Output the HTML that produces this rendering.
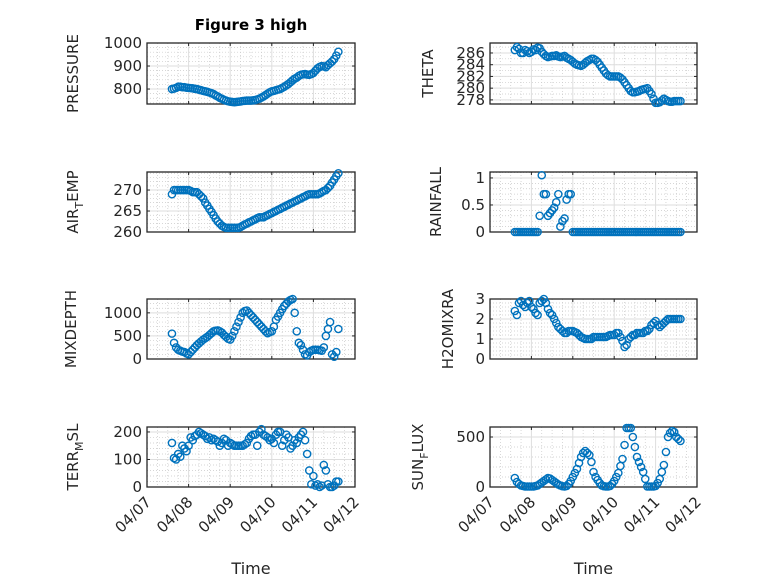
<!DOCTYPE html>
<html><head><meta charset="utf-8"><style>
body{margin:0;background:#fff;}
svg{display:block;font-family:"DejaVu Sans","Liberation Sans",sans-serif;}
</style></head><body>
<svg id="fig" width="778" height="583" viewBox="0 0 778 583">
<rect width="778" height="583" fill="#fff"/>
<text x="251" y="30" font-size="15" font-weight="bold" text-anchor="middle" fill="#000">Figure 3 high</text>
</svg>
<script>
const times=[0.6,0.65,0.7,0.75,0.8,0.85,0.9,0.95,1.0,1.05,
1.1,1.15,1.2,1.25,1.3,1.35,1.4,1.45,1.5,1.55,
1.6,1.65,1.7,1.75,1.8,1.85,1.9,1.95,2.0,2.05,
2.1,2.15,2.2,2.25,2.3,2.35,2.4,2.45,2.5,2.55,
2.6,2.65,2.7,2.75,2.8,2.85,2.9,2.95,3.0,3.05,
3.1,3.15,3.2,3.25,3.3,3.35,3.4,3.45,3.5,3.55,
3.6,3.65,3.7,3.75,3.8,3.85,3.9,3.95,4.0,4.05,
4.1,4.15,4.2,4.25,4.3,4.35,4.4,4.45,4.5,4.55,
4.6];
const xTickLabels=["04/07","04/08","04/09","04/10","04/11","04/12"];
const pressure=[800,802,805,810,810,808,808,806,805,804,
803,801,800,797,795,792,790,788,785,782,
778,772,768,762,758,753,750,747,745,744,
743,744,745,746,748,749,750,750,750,751,
752,755,758,763,768,774,780,786,790,792,
795,798,800,805,810,816,822,830,838,845,
850,857,862,864,865,863,862,865,870,880,
890,896,900,898,895,904,912,920,930,945,
962];
const airTemp=[269,270,270,270,270,270,270,270,270,269.8,
269.5,269.5,269.5,269,268.5,268,267,266.3,265.5,264.8,
264,263.2,262.5,262,261.5,261.2,261,261,261,261,
261,261,261,261.2,261.5,261.8,262,262.3,262.5,262.8,
263,263.3,263.5,263.5,263.5,263.8,264,264.3,264.5,264.8,
265,265.3,265.5,265.8,266,266.3,266.5,266.8,267,267.3,
267.5,267.8,268,268.3,268.5,268.8,269,269,269,269,
269,269.2,269.5,269.8,270,270.5,271,271.8,272.5,273.3,
274];
const theta=[286.5,287,286.7,286,286,286.5,286.3,286,286.2,286.6,
286.5,286.9,286.8,286.2,285.8,285.5,285.3,285.4,285.5,285.5,
285.6,285.4,285.3,285.4,285.5,285.2,285,284.8,284.5,284.2,
284,283.9,283.8,284,284.3,284.6,284.8,285,285,284.8,
284.5,284,283.5,283,282.5,282.2,282,282,282,282,
282,281.8,281.5,281,280.5,280,279.5,279.3,279.3,279.4,
279.5,279.7,279.8,279.9,280,279.5,279,278.2,277.5,277.5,
277.6,277.9,278.2,278,277.8,277.7,277.7,277.8,277.8,277.8,
277.8];
const rainfall=[0,0,0,0,0,0,0,0,0,0,
0,0,0.3,1.05,0.7,0.7,0.3,0.35,0.4,0.45,
0.55,0.7,0.1,0.2,0.25,0.6,0.7,0.7,0,0,
0,0,0,0,0,0,0,0,0,0,
0,0,0,0,0,0,0,0,0,0,
0,0,0,0,0,0,0,0,0,0,
0,0,0,0,0,0,0,0,0,0,
0,0,0,0,0,0,0,0,0,0,
0];
const mixDepth=[550,350,250,200,180,160,150,120,100,150,
200,250,300,340,380,420,450,480,520,560,
600,615,620,600,570,520,480,440,420,500,
600,700,800,900,1000,1040,1050,1000,950,900,
850,800,750,700,650,600,560,580,600,700,
850,920,1000,1080,1150,1200,1250,1280,1300,1000,
600,350,300,200,100,80,150,180,200,200,
200,190,180,250,500,650,800,100,50,150,
650];
const terrMsl=[160,105,100,120,110,150,140,130,150,180,
170,185,190,200,195,190,185,175,180,170,
175,170,165,150,160,175,170,150,160,155,
150,150,150,150,150,155,160,175,185,190,
190,150,200,210,190,185,180,170,175,160,
190,200,200,150,170,190,180,140,150,170,
160,180,190,200,170,120,60,10,40,5,
10,0,5,80,60,10,0,0,5,20,
20];
const h2oMix=[2.4,2.2,2.8,2.9,2.7,2.6,2.8,2.9,2.6,2.5,
2.3,2.2,2.8,2.9,3.0,2.8,2.5,2.3,2.2,2.0,
1.8,1.6,1.5,1.4,1.3,1.3,1.4,1.4,1.4,1.35,
1.3,1.2,1.1,1.05,1.0,1.0,1.0,1.0,1.1,1.1,
1.1,1.1,1.1,1.1,1.1,1.15,1.2,1.2,1.2,1.3,
1.3,1.1,0.9,0.6,0.7,1.0,1.1,1.2,1.2,1.3,
1.3,1.3,1.3,1.4,1.4,1.5,1.7,1.8,1.9,1.7,
1.6,1.7,1.8,1.9,2.0,2.0,2.0,2.0,2.0,2.0,
2.0];
const sunFlux=[90,50,30,15,10,5,5,5,5,5,
10,15,30,45,60,75,90,85,70,55,
40,25,15,8,5,10,30,60,100,140,
180,240,300,340,360,340,320,250,150,100,
70,40,15,8,5,5,10,30,60,100,
140,210,280,420,590,590,590,500,400,300,
250,200,150,80,5,5,5,5,10,40,
80,150,220,350,500,540,560,550,500,480,
460];

const NS="http://www.w3.org/2000/svg";
const svg=document.getElementById('fig');
function mk(tag,attrs,parent){const e=document.createElementNS(NS,tag);for(const k in attrs)e.setAttribute(k,attrs[k]);(parent||svg).appendChild(e);return e;}

const panels=[
 {name:'pressure',data:pressure,x0:147,x1:355,y0:43,y1:104,min:735,max:1000,ticks:[800,900,1000],minor:20,label:['PRESSURE'],lx:78},
 {name:'theta',data:theta,x0:490,x1:697,y0:43,y1:104,min:277.3,max:287.7,ticks:[278,280,282,284,286],minor:1,label:['THETA'],lx:433},
 {name:'air-temp',data:airTemp,x0:147,x1:355,y0:172,y1:232,min:260,max:274.3,ticks:[260,265,270],minor:1,label:['AIR','T','EMP'],lx:78},
 {name:'rainfall',data:rainfall,x0:490,x1:697,y0:172,y1:232,min:0,max:1.11,ticks:[0,0.5,1],minor:0.1,label:['RAINFALL'],lx:441},
 {name:'mix-depth',data:mixDepth,x0:147,x1:355,y0:299,y1:359,min:0,max:1300,ticks:[0,500,1000],minor:100,label:['MIXDEPTH'],lx:76},
 {name:'h2o-mix',data:h2oMix,x0:490,x1:697,y0:299,y1:359,min:0,max:3,ticks:[0,1,2,3],minor:0.2,label:['H2OMIXRA'],lx:453},
 {name:'terr-msl',data:terrMsl,x0:147,x1:355,y0:427,y1:487,min:0,max:218,ticks:[0,100,200],minor:20,label:['TERR','M','SL'],lx:78},
 {name:'sun-flux',data:sunFlux,x0:490,x1:697,y0:427,y1:487,min:0,max:600,ticks:[0,500],minor:100,label:['SUN','F','LUX'],lx:423}
];

panels.forEach((p,i)=>{
 const g=mk('g',{});
 
 
 const xs=d=>p.x0+(d/5)*(p.x1-p.x0);
 const ys=v=>p.y1-(v-p.min)/(p.max-p.min)*(p.y1-p.y0);
 for(let d=0.25;d<5;d+=0.25){if(Math.abs(d-Math.round(d))<1e-6)continue;mk('line',{x1:xs(d),x2:xs(d),y1:p.y0,y2:p.y1,stroke:'#c8c8c8','stroke-width':0.7,'stroke-dasharray':'1 2'},g);}
 const start=Math.ceil(p.min/p.minor)*p.minor;
 for(let v=start;v<p.max;v+=p.minor){mk('line',{x1:p.x0,x2:p.x1,y1:ys(v),y2:ys(v),stroke:'#c8c8c8','stroke-width':0.7,'stroke-dasharray':'1 2'},g);}
 for(let d=1;d<5;d++)mk('line',{x1:xs(d),x2:xs(d),y1:p.y0,y2:p.y1,stroke:'#dedede','stroke-width':1},g);
 p.ticks.forEach(v=>{mk('line',{x1:p.x0,x2:p.x1,y1:ys(v),y2:ys(v),stroke:'#dedede','stroke-width':1},g);});
 mk('rect',{x:p.x0,y:p.y0,width:p.x1-p.x0,height:p.y1-p.y0,fill:'none',stroke:'#262626','stroke-width':1.3},g);
 for(let d=0;d<=5;d++){mk('line',{x1:xs(d),x2:xs(d),y1:p.y1,y2:p.y1-3,stroke:'#262626'},g);mk('line',{x1:xs(d),x2:xs(d),y1:p.y0,y2:p.y0+3,stroke:'#262626'},g);}
 p.ticks.forEach(v=>{
  mk('line',{x1:p.x0,x2:p.x0+3,y1:ys(v),y2:ys(v),stroke:'#262626'},g);
  mk('line',{x1:p.x1,x2:p.x1-3,y1:ys(v),y2:ys(v),stroke:'#262626'},g);
  const t=mk('text',{x:p.x0-5,y:ys(v)+5,'font-size':15,'text-anchor':'end',fill:'#262626'},g);
  t.textContent=String(v);
  
  
 });
 const cy=(p.y0+p.y1)/2;
 const lab=mk('text',{x:p.lx,y:cy,'font-size':15,'text-anchor':'middle',fill:'#262626',transform:`rotate(-90 ${p.lx} ${cy})`},g);
 
 
 if(p.label.length===1){lab.textContent=p.label[0];}
 else{
  const a=mk('tspan',{},lab);a.textContent=p.label[0];
  const b=mk('tspan',{'font-size':11,dy:5},lab);b.textContent=p.label[1];
  const c=mk('tspan',{dy:-5},lab);c.textContent=p.label[2];
 }
 const mg=mk('g',{fill:'none',stroke:'#0072BD','stroke-width':1.4},g);
 
 
 p.data.forEach((v,j)=>{
  const c=mk('circle',{cx:xs(times[j]),cy:ys(v),r:3.6},mg);
  
  
 });
 if(i>=6){
  xTickLabels.forEach((s,k)=>{
   const x=xs(k), y=p.y1+16;
   const t=mk('text',{x:x+5,y:y,'font-size':15,'text-anchor':'end',fill:'#262626',transform:`rotate(-45 ${x+5} ${y})`},g);
   t.textContent=s;
   
   
  });
  const tt=mk('text',{x:(p.x0+p.x1)/2,y:574,'font-size':16,'text-anchor':'middle',fill:'#262626'},g);
  tt.textContent='Time';
  
  
 }
});
</script>
</body></html>
